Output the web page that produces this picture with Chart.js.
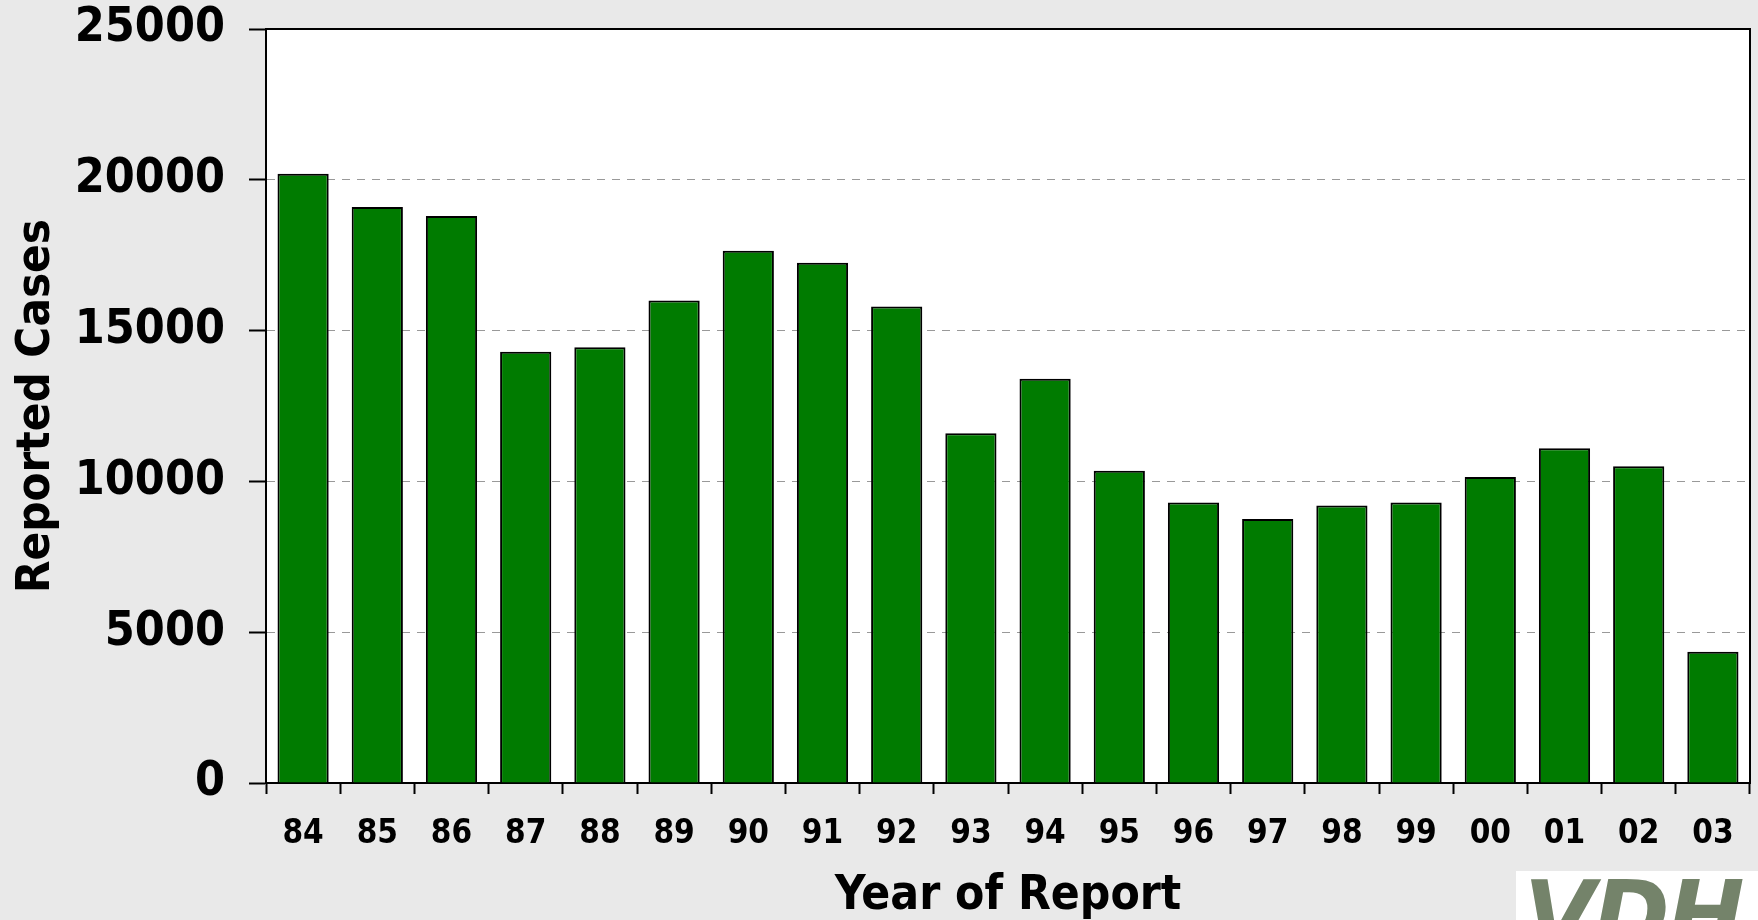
<!DOCTYPE html>
<html><head><meta charset="utf-8">
<script src="https://cdn.jsdelivr.net/npm/chart.js@4/dist/chart.umd.min.js"></script>
<style>
html,body{margin:0;padding:0;background:#e9e9e9;width:1758px;height:920px;overflow:hidden;}
#wrap{position:relative;width:1758px;height:920px;}
canvas{position:absolute;left:0;top:0;}
#logo{position:absolute;left:1516px;top:871px;width:242px;height:49px;background:#fff;overflow:hidden;}
#logo span{position:absolute;left:8px;top:-1px;font:italic bold 92px 'DejaVu Sans',sans-serif;color:#74836a;line-height:1;letter-spacing:-2px;}
</style></head>
<body><div id="wrap"><canvas id="c" width="1758" height="920"></canvas><div id="logo"><span>VDH</span></div></div>
<script>
const years = ['84','85','86','87','88','89','90','91','92','93','94','95','96','97','98','99','00','01','02','03'];
const reportedCases = [20200,19100,18800,14300,14450,16000,17650,17250,15800,11600,13400,10350,9300,8750,9200,9300,10150,11100,10500,4350];
const yTickValues = [0,5000,10000,15000,20000,25000];
const xTitle = 'Year of Report';
const yTitle = 'Reported Cases';

const FONT = "'DejaVu Sans Condensed','DejaVu Sans',sans-serif";

const framePlugin = {
  id: 'frame',
  beforeDraw(chart) {
    const {ctx, chartArea: a} = chart;
    ctx.save();
    ctx.fillStyle = '#ffffff';
    ctx.fillRect(a.left, a.top, a.right - a.left, a.bottom - a.top);
    ctx.restore();
  },
  afterDraw(chart) {
    const {ctx, chartArea: a} = chart;
    ctx.save();
    ctx.strokeStyle = '#000';
    ctx.lineWidth = 2;
    ctx.beginPath();
    ctx.moveTo(a.left, a.top);
    ctx.lineTo(a.right, a.top);
    ctx.lineTo(a.right, a.bottom);
    ctx.stroke();
    ctx.restore();
  }
};

new Chart(document.getElementById('c'), {
  type: 'bar',
  data: {
    labels: years,
    datasets: [{
      data: reportedCases,
      backgroundColor: '#007b00',
      borderColor: '#000000',
      borderWidth: 2,
      categoryPercentage: 1.0,
      barPercentage: 0.69
    }]
  },
  options: {
    responsive: false,
    animation: false,
    layout: { padding: { top: 29, right: 8, left: 0, bottom: 0 } },
    plugins: { legend: { display: false }, tooltip: { enabled: false } },
    scales: {
      x: {
        offset: true,
        grid: { display: true, drawOnChartArea: false, offset: true, tickLength: 11, tickColor: '#000', tickWidth: 2, color: '#000' },
        border: { display: true, color: '#000', width: 2 },
        ticks: { color: '#000', padding: 24, font: { family: FONT, size: 33, weight: 'bold', lineHeight: 1 }, maxRotation: 0, autoSkip: false },
        title: { display: true, text: xTitle, color: '#000', font: { family: FONT, size: 47.5, weight: 'bold', lineHeight: 1 }, padding: { top: 0, bottom: 0 } },
        afterFit(s) { s.height = 137; s.paddingLeft = 0; s.paddingRight = 0; }
      },
      y: {
        min: 0, max: 25000,
        afterBuildTicks(s) { s.ticks = yTickValues.map(v => ({ value: v })); },
        grid: { color: '#999999', lineWidth: 1, tickLength: 17, tickColor: '#000', tickWidth: 2, tickBorderDash: [] },
        border: { display: true, color: '#000', width: 2, dash: [8, 7] },
        ticks: { color: '#000', padding: 24, font: { family: FONT, size: 48, weight: 'bold', lineHeight: 1 }, callback: v => String(v) },
        title: { display: true, text: yTitle, color: '#000', font: { family: FONT, size: 47, weight: 'bold', lineHeight: 1 }, padding: { top: 13, bottom: 0 } },
        afterFit(s) { s.width = 266; s.paddingTop = 0; s.paddingBottom = 0; }
      }
    }
  },
  plugins: [framePlugin]
});
</script>
</body></html>
